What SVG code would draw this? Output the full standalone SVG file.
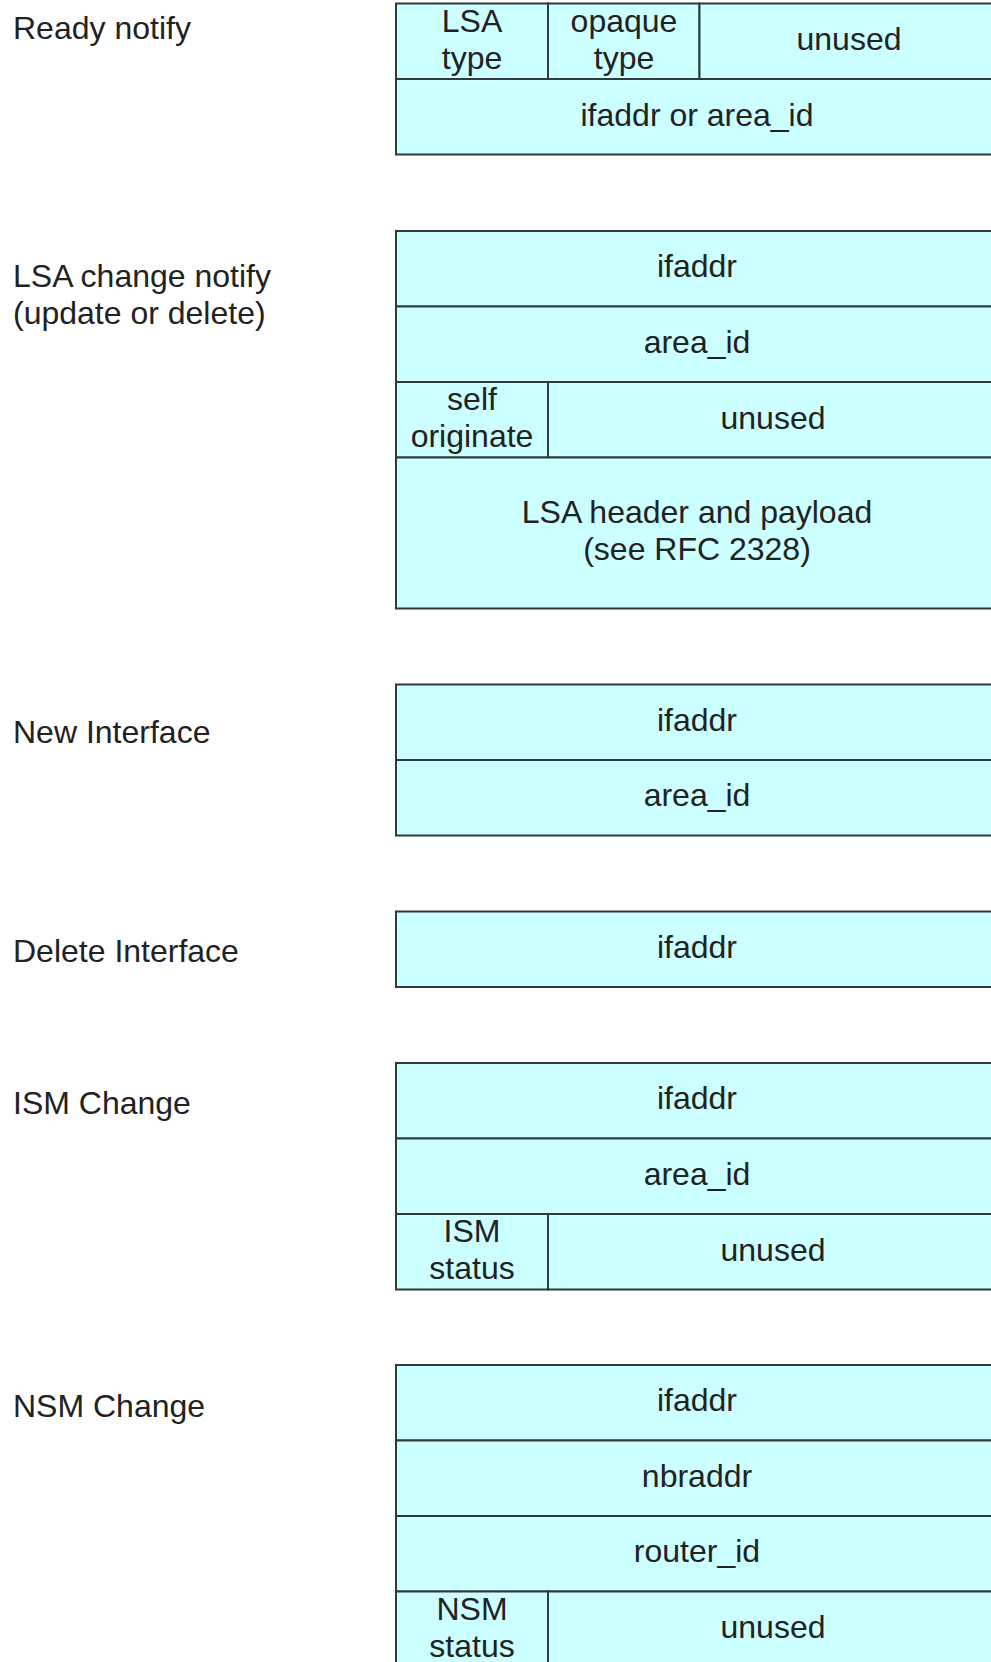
<svg xmlns="http://www.w3.org/2000/svg" width="991" height="1662" viewBox="0 0 991 1662">
  <style>
    .cell { fill: #ccffff; stroke: #2f3a3a; stroke-width: 2; }
    .t { font-family: "Liberation Sans", Arial, sans-serif; font-size: 32px; fill: #222222; }
    .c { text-anchor: middle; }
  </style>
  <rect width="991" height="1662" fill="#ffffff"/>

  <!-- message titles -->
  <g id="labels" class="t">
    <text x="13" y="39">Ready notify</text>
    <text x="13" y="287">LSA change notify</text>
    <text x="13" y="324">(update or delete)</text>
    <text x="13" y="743">New Interface</text>
    <text x="13" y="962">Delete Interface</text>
    <text x="13" y="1114">ISM Change</text>
    <text x="13" y="1417">NSM Change</text>
  </g>

  <!-- Ready notify -->
  <g id="ready-notify">
    <rect class="cell" x="396" y="3.5" width="152" height="75.5"/>
    <rect class="cell" x="548" y="3.5" width="151.5" height="75.5"/>
    <rect class="cell" x="699.5" y="3.5" width="298.5" height="75.5"/>
    <rect class="cell" x="396" y="79" width="602" height="75.5"/>
    <text class="t c" x="472" y="31.5">LSA</text>
    <text class="t c" x="472" y="68.5">type</text>
    <text class="t c" x="624" y="31.5">opaque</text>
    <text class="t c" x="624" y="68.5">type</text>
    <text class="t c" x="849" y="50">unused</text>
    <text class="t c" x="697" y="125.5">ifaddr or area_id</text>
  </g>

  <!-- LSA change notify -->
  <g id="lsa-change-notify">
    <rect class="cell" x="396" y="231" width="602" height="75.5"/>
    <rect class="cell" x="396" y="306.5" width="602" height="75.5"/>
    <rect class="cell" x="396" y="382" width="152" height="75.5"/>
    <rect class="cell" x="548" y="382" width="450" height="75.5"/>
    <rect class="cell" x="396" y="457.5" width="602" height="151"/>
    <text class="t c" x="697" y="277">ifaddr</text>
    <text class="t c" x="697" y="352.5">area_id</text>
    <text class="t c" x="472" y="410">self</text>
    <text class="t c" x="472" y="447">originate</text>
    <text class="t c" x="773" y="428.5">unused</text>
    <text class="t c" x="697" y="522.5">LSA header and payload</text>
    <text class="t c" x="697" y="559.5">(see RFC 2328)</text>
  </g>

  <!-- New Interface -->
  <g id="new-interface">
    <rect class="cell" x="396" y="684.5" width="602" height="75.5"/>
    <rect class="cell" x="396" y="760" width="602" height="75.5"/>
    <text class="t c" x="697" y="730.5">ifaddr</text>
    <text class="t c" x="697" y="806">area_id</text>
  </g>

  <!-- Delete Interface -->
  <g id="delete-interface">
    <rect class="cell" x="396" y="911.5" width="602" height="75.5"/>
    <text class="t c" x="697" y="957.5">ifaddr</text>
  </g>

  <!-- ISM Change -->
  <g id="ism-change">
    <rect class="cell" x="396" y="1063" width="602" height="75.5"/>
    <rect class="cell" x="396" y="1138.5" width="602" height="75.5"/>
    <rect class="cell" x="396" y="1214" width="152" height="75.5"/>
    <rect class="cell" x="548" y="1214" width="450" height="75.5"/>
    <text class="t c" x="697" y="1109">ifaddr</text>
    <text class="t c" x="697" y="1184.5">area_id</text>
    <text class="t c" x="472" y="1242">ISM</text>
    <text class="t c" x="472" y="1279">status</text>
    <text class="t c" x="773" y="1260.5">unused</text>
  </g>

  <!-- NSM Change -->
  <g id="nsm-change">
    <rect class="cell" x="396" y="1365" width="602" height="75.5"/>
    <rect class="cell" x="396" y="1440.5" width="602" height="75.5"/>
    <rect class="cell" x="396" y="1516" width="602" height="75.5"/>
    <rect class="cell" x="396" y="1591.5" width="152" height="75.5"/>
    <rect class="cell" x="548" y="1591.5" width="450" height="75.5"/>
    <text class="t c" x="697" y="1411">ifaddr</text>
    <text class="t c" x="697" y="1486.5">nbraddr</text>
    <text class="t c" x="697" y="1562">router_id</text>
    <text class="t c" x="472" y="1619.5">NSM</text>
    <text class="t c" x="472" y="1656.5">status</text>
    <text class="t c" x="773" y="1638">unused</text>
  </g>
</svg>
